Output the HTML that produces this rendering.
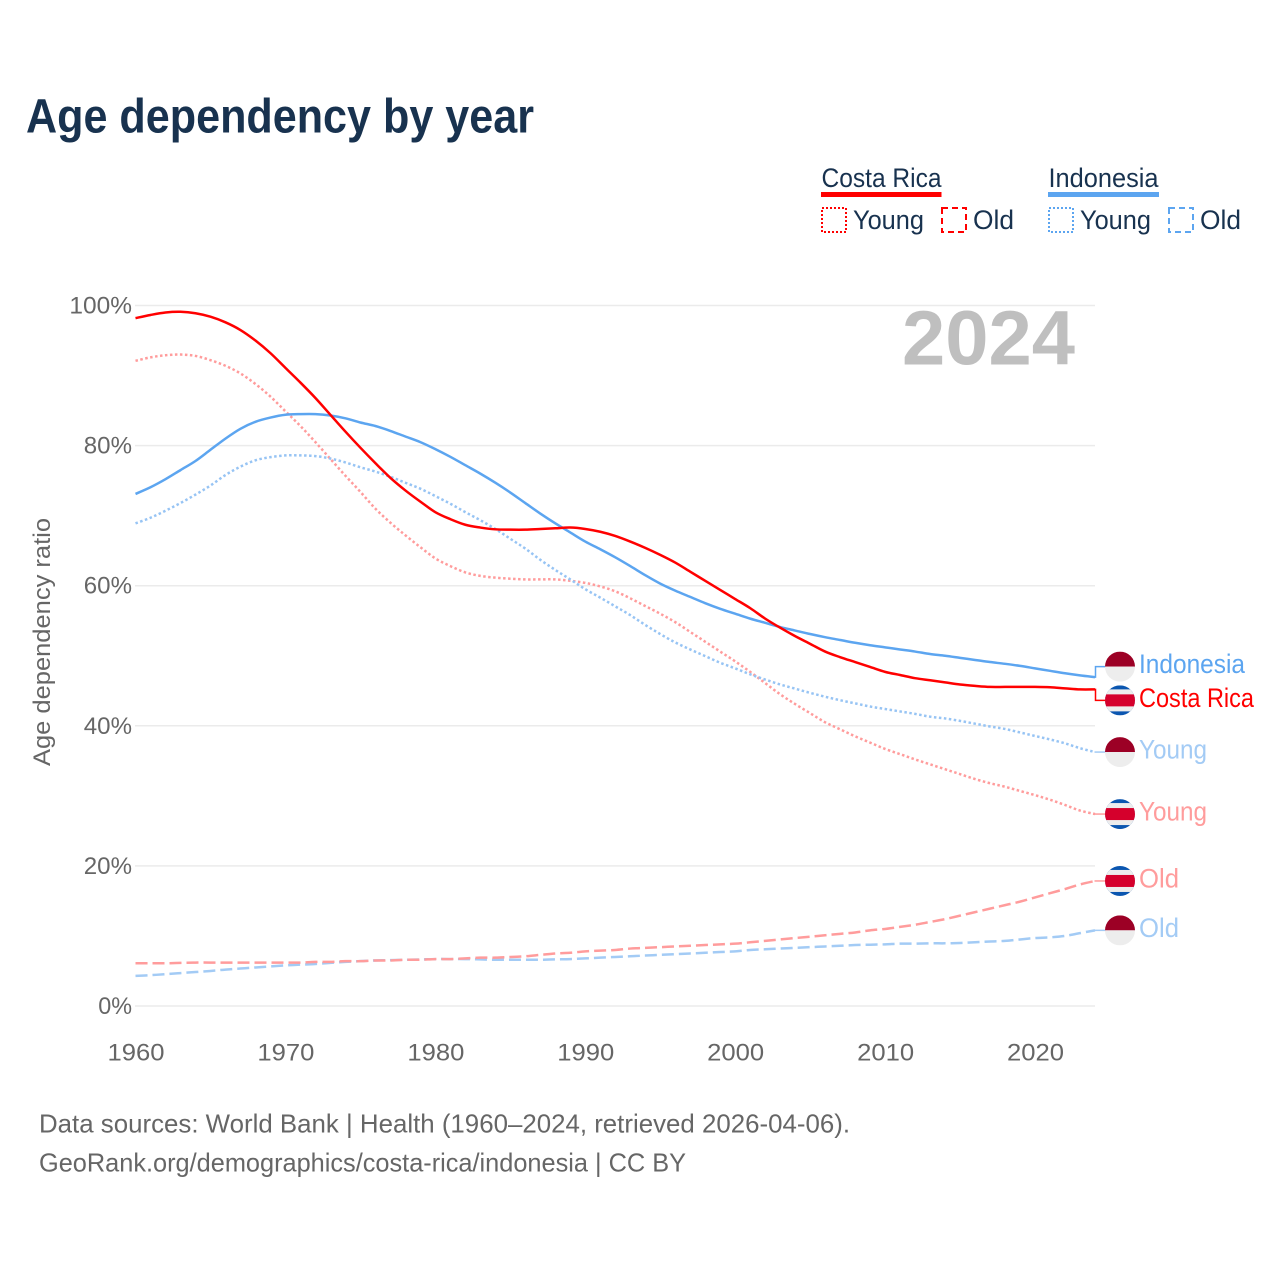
<!DOCTYPE html>
<html lang="en">
<head>
<meta charset="utf-8">
<title>Age dependency by year</title>
<style>
html,body{margin:0;padding:0;background:#fff;width:1280px;height:1280px;overflow:hidden}
svg{display:block;font-family:"Liberation Sans",sans-serif}
</style>
</head>
<body>
<svg id="chart" xmlns="http://www.w3.org/2000/svg" width="1280" height="1280" viewBox="0 0 1280 1280">
  <defs>
    <clipPath id="flag-clip"><circle cx="0" cy="0" r="15"/></clipPath>
  </defs>
  <rect width="1280" height="1280" fill="#fff"/>
  <text x="26" y="132.5" font-size="48" font-weight="700" fill="#18324f" textLength="508" lengthAdjust="spacingAndGlyphs">Age dependency by year</text>

  <g font-size="27" fill="#18324f">
    <g>
      <text x="821.5" y="187" textLength="120" lengthAdjust="spacingAndGlyphs">Costa Rica</text>
      <rect x="821" y="192" width="120.5" height="5" fill="#ff0000"/>
      <rect x="822" y="208" width="24" height="24" fill="none" stroke="#ff0000" stroke-width="2" stroke-dasharray="2 2"/>
      <text x="853" y="229" textLength="71" lengthAdjust="spacingAndGlyphs">Young</text>
      <rect x="942" y="208" width="24" height="24" fill="none" stroke="#ff0000" stroke-width="2" stroke-dasharray="6 4"/>
      <text x="973" y="229" textLength="41" lengthAdjust="spacingAndGlyphs">Old</text>
    </g>
    <g>
      <text x="1048.5" y="187" textLength="110" lengthAdjust="spacingAndGlyphs">Indonesia</text>
      <rect x="1048" y="192" width="111" height="5" fill="#5ca5f0"/>
      <rect x="1049" y="208" width="24" height="24" fill="none" stroke="#5ca5f0" stroke-width="2" stroke-dasharray="2 2"/>
      <text x="1080" y="229" textLength="71" lengthAdjust="spacingAndGlyphs">Young</text>
      <rect x="1169" y="208" width="24" height="24" fill="none" stroke="#5ca5f0" stroke-width="2" stroke-dasharray="6 4"/>
      <text x="1200" y="229" textLength="41" lengthAdjust="spacingAndGlyphs">Old</text>
    </g>
  </g>

  <g id="grid"></g>
  <g id="yticks"></g>
  <g id="xticks"></g>
  <text transform="translate(50,642) rotate(-90)" text-anchor="middle" font-size="24" fill="#666" textLength="248" lengthAdjust="spacingAndGlyphs">Age dependency ratio</text>
  <text x="902" y="364.5" font-size="77" font-weight="700" fill="#bfbfbf" textLength="173" lengthAdjust="spacingAndGlyphs">2024</text>
  <g id="series"></g>
  <g id="endlabels"></g>

  <g font-size="26" fill="#666">
    <text x="39" y="1132.5" textLength="811" lengthAdjust="spacingAndGlyphs">Data sources: World Bank | Health (1960–2024, retrieved 2026-04-06).</text>
    <text x="39" y="1171.5" textLength="647" lengthAdjust="spacingAndGlyphs">GeoRank.org/demographics/costa-rica/indonesia | CC BY</text>
  </g>
</svg>
<script>
const startYear = 1960;
const xTickLabels = [1960, 1970, 1980, 1990, 2000, 2010, 2020];
const yTickLabels = [0, 20, 40, 60, 80, 100];

const costaRicaTotal = [98.2,98.65,99.0,99.1,98.9,98.4,97.6,96.5,95.0,93.2,91.1,89.0,86.8,84.4,82.0,79.7,77.5,75.4,73.6,72.0,70.5,69.5,68.7,68.3,68.05,68.0,68.0,68.1,68.2,68.3,68.1,67.7,67.1,66.3,65.4,64.4,63.3,62.0,60.7,59.4,58.1,56.8,55.3,54.0,52.8,51.7,50.6,49.8,49.1,48.4,47.7,47.25,46.8,46.5,46.2,45.9,45.7,45.55,45.55,45.55,45.55,45.5,45.35,45.2,45.2];
const costaRicaYoung = [92.1,92.6,92.9,93.0,92.8,92.2,91.4,90.3,88.8,87.0,84.9,82.8,80.5,78.1,75.7,73.4,71.0,69.0,67.2,65.5,63.9,62.8,61.9,61.4,61.15,61.0,60.9,60.9,60.9,60.7,60.4,59.9,59.2,58.2,57.1,56.0,54.8,53.4,52.0,50.6,49.2,47.7,46.1,44.5,43.1,41.8,40.5,39.5,38.5,37.6,36.7,35.95,35.2,34.5,33.8,33.1,32.4,31.8,31.3,30.7,30.1,29.45,28.7,27.9,27.4];
const costaRicaOld = [6.1,6.1,6.1,6.15,6.2,6.2,6.2,6.2,6.2,6.2,6.2,6.2,6.3,6.3,6.4,6.4,6.5,6.5,6.6,6.6,6.7,6.7,6.8,6.9,6.9,7.0,7.1,7.3,7.5,7.6,7.8,7.9,8.0,8.2,8.3,8.4,8.5,8.6,8.7,8.8,8.9,9.1,9.3,9.5,9.7,9.9,10.1,10.3,10.5,10.8,11.0,11.3,11.6,12.0,12.4,12.9,13.4,13.9,14.4,14.9,15.5,16.1,16.7,17.35,17.85];
const indonesiaTotal = [73.1,74.05,75.2,76.5,77.8,79.4,81.0,82.4,83.4,84.0,84.4,84.5,84.5,84.3,83.9,83.3,82.8,82.1,81.3,80.5,79.5,78.4,77.2,76.0,74.7,73.3,71.8,70.3,68.9,67.6,66.3,65.2,64.05,62.8,61.5,60.3,59.3,58.4,57.5,56.7,56.0,55.3,54.7,54.1,53.6,53.1,52.65,52.25,51.85,51.5,51.2,50.9,50.6,50.25,50.0,49.7,49.4,49.1,48.85,48.55,48.2,47.85,47.5,47.2,46.95];
const indonesiaYoung = [68.9,69.7,70.7,71.8,73.0,74.3,75.8,77.0,77.9,78.35,78.6,78.6,78.5,78.15,77.6,76.9,76.3,75.55,74.7,73.85,72.8,71.7,70.5,69.35,68.1,66.7,65.3,63.7,62.25,60.9,59.5,58.3,57.05,55.8,54.4,53.1,51.9,50.9,49.95,49.0,48.2,47.35,46.6,45.9,45.3,44.7,44.15,43.65,43.2,42.75,42.4,42.05,41.7,41.3,41.05,40.7,40.3,39.9,39.55,39.05,38.55,38.05,37.5,36.8,36.25];
const indonesiaOld = [4.3,4.4,4.55,4.7,4.85,5.0,5.2,5.35,5.5,5.65,5.8,5.9,6.0,6.15,6.3,6.4,6.5,6.55,6.6,6.65,6.7,6.7,6.7,6.65,6.6,6.6,6.6,6.6,6.65,6.7,6.8,6.9,7.0,7.1,7.2,7.3,7.4,7.5,7.6,7.7,7.8,8.0,8.1,8.2,8.3,8.4,8.5,8.6,8.7,8.75,8.8,8.9,8.9,8.95,8.95,9.0,9.1,9.2,9.3,9.5,9.7,9.8,10.0,10.4,10.8];

const NS = 'http://www.w3.org/2000/svg';
const xScale = year => 135.5 + (year - 1960) * 14.992;
const yScale = value => 1006 - value * 7.005;

function make(tag, attrs, parent, text) {
  const el = document.createElementNS(NS, tag);
  for (const k in attrs) el.setAttribute(k, attrs[k]);
  if (text !== undefined) el.textContent = text;
  parent.appendChild(el);
  return el;
}

const gridGroup = document.getElementById('grid');
const yTickGroup = document.getElementById('yticks');
const xTickGroup = document.getElementById('xticks');
const seriesGroup = document.getElementById('series');
const endGroup = document.getElementById('endlabels');

yTickLabels.forEach(v => {
  const line = make('line', {x1: 135, x2: 1095, y1: yScale(v), y2: yScale(v), stroke: '#ebebeb', 'stroke-width': 1.5}, gridGroup);
  
  
  const label = v + '%';
  const t = make('text', {x: 132, y: yScale(v) + 8, 'text-anchor': 'end', 'font-size': 24, fill: '#666', textLength: label.length * 14.4 + 5, lengthAdjust: 'spacingAndGlyphs'}, yTickGroup, label);
  
  
});

xTickLabels.forEach(v => {
  const t = make('text', {x: xScale(v) + 0.5, y: 1060.5, 'text-anchor': 'middle', 'font-size': 24, fill: '#666', textLength: 57, lengthAdjust: 'spacingAndGlyphs'}, xTickGroup, String(v));
  
  
});

function pathFor(values) {
  const pts = values.map((v, i) => [xScale(startYear + i), yScale(v)]);
  let d = 'M' + pts[0][0].toFixed(2) + ' ' + pts[0][1].toFixed(2);
  for (let i = 0; i < pts.length - 1; i++) {
    const p0 = pts[Math.max(i - 1, 0)];
    const p1 = pts[i];
    const p2 = pts[i + 1];
    const p3 = pts[Math.min(i + 2, pts.length - 1)];
    const c1x = p1[0] + (p2[0] - p0[0]) / 6;
    const c1y = p1[1] + (p2[1] - p0[1]) / 6;
    const c2x = p2[0] - (p3[0] - p1[0]) / 6;
    const c2y = p2[1] - (p3[1] - p1[1]) / 6;
    d += ' C' + c1x.toFixed(2) + ' ' + c1y.toFixed(2) + ' ' + c2x.toFixed(2) + ' ' + c2y.toFixed(2) + ' ' + p2[0].toFixed(2) + ' ' + p2[1].toFixed(2);
  }
  return d;
}

function addSeries(values, color, dash, name) {
  const attrs = {d: pathFor(values), fill: 'none', stroke: color, 'stroke-width': 2.5, 'stroke-linejoin': 'round'};
  if (dash) attrs['stroke-dasharray'] = dash;
  const p = make('path', attrs, seriesGroup);
  
  
}

addSeries(indonesiaOld, '#a3cbf5', '12 5', 'line-indonesia-old');
addSeries(costaRicaOld, '#ff9c9c', '12 5', 'line-costa-rica-old');
addSeries(costaRicaYoung, '#ff9c9c', '2.5 2.5', 'line-costa-rica-young');
addSeries(indonesiaYoung, '#97c4f4', '2.5 2.5', 'line-indonesia-young');
addSeries(indonesiaTotal, '#5ca5f0', null, 'line-indonesia-total');
addSeries(costaRicaTotal, '#ff0000', null, 'line-costa-rica-total');

function drawFlag(parent, country, cy) {
  const g = make('g', {transform: 'translate(1120,' + cy + ')', 'clip-path': 'url(#flag-clip)'}, parent);
  
  
  if (country === 'indonesia') {
    make('rect', {x: -15, y: -15, width: 30, height: 15, fill: '#9c0025'}, g);
    make('rect', {x: -15, y: 0, width: 30, height: 15, fill: '#ededed'}, g);
  } else {
    make('rect', {x: -15, y: -15, width: 30, height: 30, fill: '#0b56b0'}, g);
    make('rect', {x: -15, y: -11, width: 30, height: 22, fill: '#ededed'}, g);
    make('rect', {x: -15, y: -6, width: 30, height: 12, fill: '#d5002c'}, g);
  }
}

function addEnd(values, offset, color, country, label, width, name) {
  const y0 = yScale(values[values.length - 1]);
  const y1 = y0 + offset;
  const g = make('g', {}, endGroup);
  
  
  const c = make('path', {d: 'M1094.5 ' + y0 + ' L1095.5 ' + y0 + ' L1095.5 ' + y1 + ' L1106 ' + y1, fill: 'none', stroke: color, 'stroke-width': 1.5}, g);
  
  
  drawFlag(g, country, y1);
  const t = make('text', {x: 1139, y: y1 + 6.5, 'font-size': 26.5, fill: color, textLength: width, lengthAdjust: 'spacingAndGlyphs'}, g, label);
  
  
}

addEnd(indonesiaTotal, -10.5, '#5ca5f0', 'indonesia', 'Indonesia', 106, 'indonesia-total');
addEnd(costaRicaTotal, 11, '#ff0000', 'costa-rica', 'Costa Rica', 115, 'costa-rica-total');
addEnd(indonesiaYoung, 0, '#a3cbf5', 'indonesia', 'Young', 68, 'indonesia-young');
addEnd(costaRicaYoung, 0, '#ff9c9c', 'costa-rica', 'Young', 68, 'costa-rica-young');
addEnd(costaRicaOld, 0, '#ff9c9c', 'costa-rica', 'Old', 40, 'costa-rica-old');
addEnd(indonesiaOld, 0, '#a3cbf5', 'indonesia', 'Old', 40, 'indonesia-old');
</script>
</body>
</html>
